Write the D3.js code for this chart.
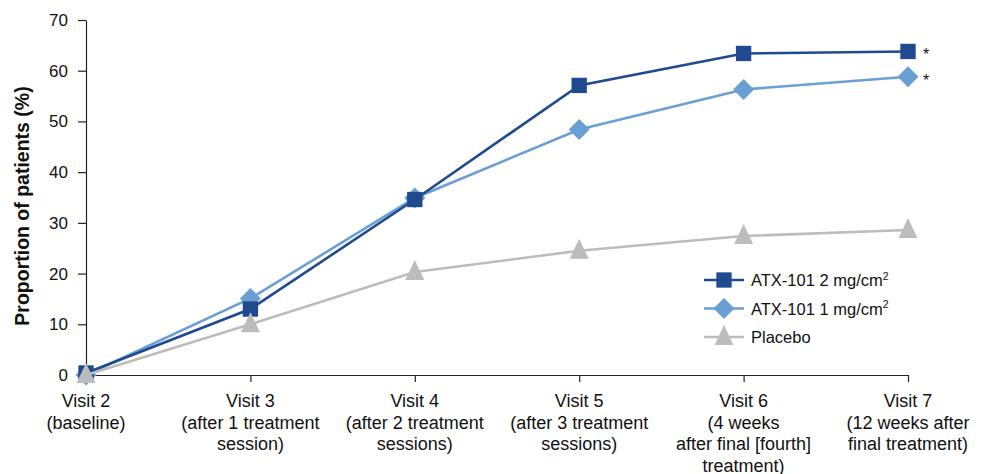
<!DOCTYPE html>
<html><head><meta charset="utf-8">
<script src="https://cdn.jsdelivr.net/npm/d3@7"></script>
<style>body{margin:0;background:#fff;} text{font-family:"Liberation Sans",Arial,sans-serif;}</style>
</head><body>
<svg id="c" width="984" height="474"></svg>
<script>
const categories = [
  ["Visit 2","(baseline)"],
  ["Visit 3","(after 1 treatment","session)"],
  ["Visit 4","(after 2 treatment","sessions)"],
  ["Visit 5","(after 3 treatment","sessions)"],
  ["Visit 6","(4 weeks","after final [fourth]","treatment)"],
  ["Visit 7","(12 weeks after","final treatment)"]
];
const atx2 = [0.4, 13.0, 34.6, 57.1, 63.4, 63.8];
const atx1 = [0, 15.1, 34.9, 48.4, 56.3, 58.8];
const placebo = [0, 10.0, 20.3, 24.5, 27.4, 28.6];
const yTicks = [0,10,20,30,40,50,60,70];
const seriesNames = ["ATX-101 2 mg/cm", "ATX-101 1 mg/cm", "Placebo"];
const seriesSup = ["2","2",""];
const colors = ["#1f4a90","#6a9fd4","#bcbcbc"];
const asterisks = [true,true,false];

const svg = d3.select("#c");
const x = d3.scalePoint().domain(d3.range(categories.length)).range([86,908]);
const y = d3.scaleLinear().domain([0,70]).range([375,20]);

// axes
const yAxis = svg.append("g").attr("transform","translate(86,0)")
  .call(d3.axisLeft(y).tickValues(yTicks).tickSize(8).tickSizeOuter(0).tickPadding(10));
yAxis.select(".domain").attr("stroke","#222").attr("stroke-width",1.2);
yAxis.selectAll(".tick line").attr("stroke","#222").attr("stroke-width",1.2);
yAxis.selectAll("text").attr("font-size",17).attr("fill","#111").attr("font-family","Liberation Sans, Arial, sans-serif");

const xAxis = svg.append("g").attr("transform","translate(0,375)")
  .call(d3.axisBottom(x).tickSize(7).tickSizeOuter(0).tickFormat(""));
xAxis.select(".domain").attr("stroke","#222").attr("stroke-width",1.2);
xAxis.selectAll(".tick line").attr("stroke","#222").attr("stroke-width",1.2);
xAxis.selectAll(".tick").filter(d=>d===0).select("line").remove();

categories.forEach((lines,i)=>{
  const t = svg.append("text").attr("x",x(i)).attr("y",407).attr("text-anchor","middle")
    .attr("font-size",18).attr("fill","#111");
  lines.forEach((l,j)=>t.append("tspan").attr("x",x(i)).attr("dy",j===0?0:21.5).text(l));
});

svg.append("text").attr("transform","translate(29,206) rotate(-90)")
  .attr("text-anchor","middle").attr("font-size",19.5).attr("font-weight","bold")
  .attr("fill","#111").text("Proportion of patients (%)");

const data = [atx2, atx1, placebo];
const markerPath = [
  d3.symbol().type(d3.symbolSquare).size(235)(),
  "M0,-10.5L10.5,0L0,10.5L-10.5,0Z",
  "M0,-12L9.5,8L-9.5,8Z"
];
const line = d3.line().x((d,i)=>x(i)).y(d=>y(d));

// draw order: light blue, dark blue, placebo on top
[1,0,2].forEach(s=>{
  svg.append("path").datum(data[s]).attr("d",line).attr("fill","none")
    .attr("stroke",colors[s]).attr("stroke-width",2.6);
  svg.selectAll(null).data(data[s]).enter().append("path")
    .attr("d",markerPath[s])
    .attr("transform",(d,i)=>`translate(${x(i)},${y(d)})`)
    .attr("fill",colors[s]);
  if(asterisks[s]){
    svg.append("text").attr("x",x(5)+15).attr("y",y(data[s][5])+9)
      .attr("font-size",16).attr("fill","#111").text("*");
  }
});

// legend
const lg = svg.append("g");
[0,1,2].forEach(s=>{
  const yy = 280 + s*28.5;
  lg.append("line").attr("x1",704).attr("x2",744).attr("y1",yy).attr("y2",yy)
    .attr("stroke",colors[s]).attr("stroke-width",2.6);
  lg.append("path").attr("d",markerPath[s])
    .attr("transform",`translate(724,${yy})`).attr("fill",colors[s]);
  const t = lg.append("text").attr("x",751).attr("y",yy+6).attr("font-size",16.5).attr("fill","#111")
    .text(seriesNames[s]);
  if(seriesSup[s]) t.append("tspan").attr("dy",-6.5).attr("font-size",10.5).text(seriesSup[s]);
});
</script>
</body></html>
